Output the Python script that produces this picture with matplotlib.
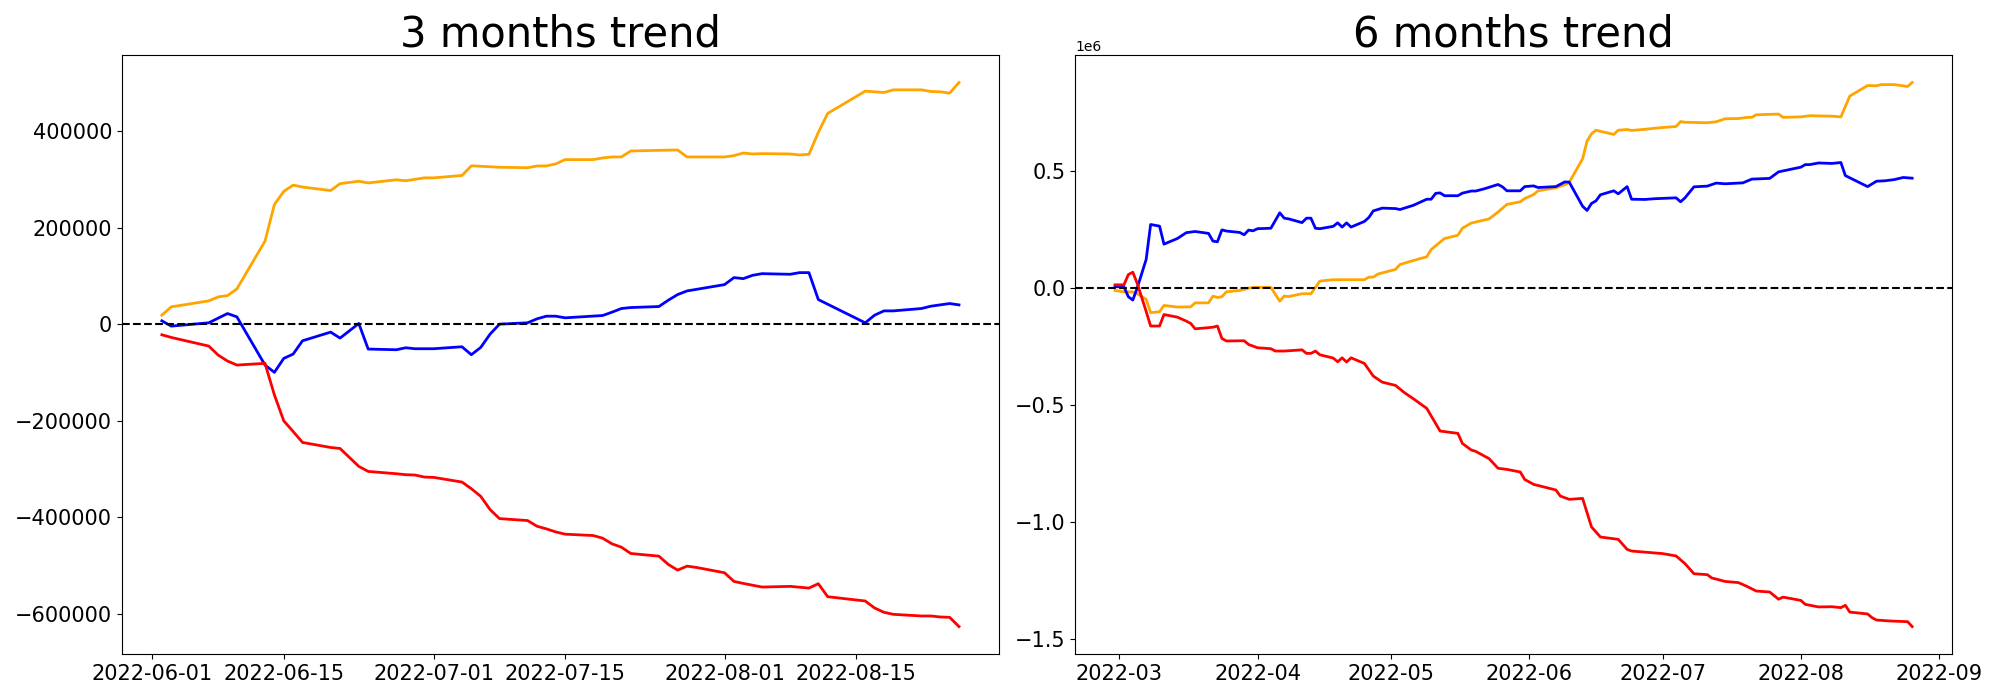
import matplotlib
matplotlib.use('Agg')
import matplotlib.pyplot as plt
import pandas as pd

# ---- 3 months trend ----
orange_3m_dates = ['2022-06-02', '2022-06-03', '2022-06-07', '2022-06-08', '2022-06-09', '2022-06-10',
                   '2022-06-13', '2022-06-14', '2022-06-15', '2022-06-16', '2022-06-17', '2022-06-20',
                   '2022-06-21', '2022-06-23', '2022-06-24', '2022-06-27', '2022-06-28', '2022-06-30',
                   '2022-07-01', '2022-07-04', '2022-07-05', '2022-07-08', '2022-07-11', '2022-07-12',
                   '2022-07-13', '2022-07-14', '2022-07-15', '2022-07-18', '2022-07-19', '2022-07-20',
                   '2022-07-21', '2022-07-22', '2022-07-25', '2022-07-27', '2022-07-28', '2022-08-01',
                   '2022-08-02', '2022-08-03', '2022-08-04', '2022-08-05', '2022-08-08', '2022-08-09',
                   '2022-08-10', '2022-08-11', '2022-08-12', '2022-08-16', '2022-08-17', '2022-08-18',
                   '2022-08-19', '2022-08-22', '2022-08-23', '2022-08-24', '2022-08-25', '2022-08-26']
orange_3m = [18600, 35800, 48200, 56400, 59200, 73000,
             172000, 247800, 275000, 288000, 284000, 276700,
             291000, 296000, 292500, 299000, 297000, 303000,
             303000, 308000, 328000, 325000, 324000, 327600,
             327700, 332000, 340800, 340800, 344200, 346300,
             346300, 358700, 360000, 360700, 346300, 346300,
             349000, 354500, 352500, 353200, 352500, 350400,
             351800, 397200, 436500, 482600, 481200, 479800,
             485300, 485300, 481900, 481200, 478400, 500500]

blue_3m_dates = ['2022-06-02', '2022-06-03', '2022-06-07', '2022-06-09', '2022-06-10', '2022-06-13',
                 '2022-06-14', '2022-06-15', '2022-06-16', '2022-06-17', '2022-06-20', '2022-06-21',
                 '2022-06-23', '2022-06-24', '2022-06-27', '2022-06-28', '2022-06-29', '2022-07-01',
                 '2022-07-04', '2022-07-05', '2022-07-06', '2022-07-07', '2022-07-08', '2022-07-11',
                 '2022-07-12', '2022-07-13', '2022-07-14', '2022-07-15', '2022-07-19', '2022-07-20',
                 '2022-07-21', '2022-07-22', '2022-07-25', '2022-07-26', '2022-07-27', '2022-07-28',
                 '2022-08-01', '2022-08-02', '2022-08-03', '2022-08-04', '2022-08-05', '2022-08-08',
                 '2022-08-09', '2022-08-10', '2022-08-11', '2022-08-16', '2022-08-17', '2022-08-18',
                 '2022-08-19', '2022-08-22', '2022-08-23', '2022-08-25', '2022-08-26']
blue_3m = [6900, -4100, 2800, 22000, 15100, -84700,
           -99800, -70900, -62000, -34400, -16500, -28900,
           1400, -51600, -53000, -48900, -50900, -50900,
           -46800, -63300, -48200, -20700, 0, 2800,
           11000, 16500, 16500, 13100, 17900, 24800,
           32400, 34400, 36500, 49600, 61300, 68800,
           81900, 96400, 94300, 101200, 104600, 103300,
           106700, 106700, 50900, 2800, 18600, 27500,
           27500, 32400, 37200, 42700, 39900]

red_3m_dates = ['2022-06-02', '2022-06-03', '2022-06-07', '2022-06-08', '2022-06-09', '2022-06-10',
                '2022-06-13', '2022-06-14', '2022-06-15', '2022-06-16', '2022-06-17', '2022-06-20',
                '2022-06-21', '2022-06-23', '2022-06-24', '2022-06-27', '2022-06-28', '2022-06-29',
                '2022-06-30', '2022-07-01', '2022-07-04', '2022-07-05', '2022-07-06', '2022-07-07',
                '2022-07-08', '2022-07-11', '2022-07-12', '2022-07-13', '2022-07-14', '2022-07-15',
                '2022-07-18', '2022-07-19', '2022-07-20', '2022-07-21', '2022-07-22', '2022-07-25',
                '2022-07-26', '2022-07-27', '2022-07-28', '2022-07-29', '2022-08-01', '2022-08-02',
                '2022-08-03', '2022-08-05', '2022-08-08', '2022-08-10', '2022-08-11', '2022-08-12',
                '2022-08-16', '2022-08-17', '2022-08-18', '2022-08-19', '2022-08-22', '2022-08-23',
                '2022-08-24', '2022-08-25', '2022-08-26']
red_3m = [-22000, -27500, -45400, -64000, -76400, -84700,
          -81200, -146600, -200300, -222400, -245000, -255400,
          -257500, -294600, -305000, -309800, -311800, -312500,
          -316700, -317400, -327000, -340800, -356600, -384100,
          -402700, -406800, -418500, -424000, -430300, -435000,
          -437800, -443300, -455000, -461900, -475000, -480500,
          -497700, -509400, -501200, -503900, -514900, -532800,
          -537000, -544500, -543100, -546600, -537600, -564500,
          -573400, -587900, -596800, -601000, -604400, -604400,
          -606500, -607200, -626400]

# ---- 6 months trend ----
orange_6m_dates = ['2022-02-28', '2022-03-02', '2022-03-04', '2022-03-05', '2022-03-07', '2022-03-08',
                   '2022-03-10', '2022-03-11', '2022-03-14', '2022-03-17', '2022-03-18', '2022-03-21',
                   '2022-03-22', '2022-03-23', '2022-03-24', '2022-03-25', '2022-03-28', '2022-03-30',
                   '2022-03-31', '2022-04-04', '2022-04-06', '2022-04-07', '2022-04-08', '2022-04-11',
                   '2022-04-13', '2022-04-15', '2022-04-18', '2022-04-25', '2022-04-26', '2022-04-27',
                   '2022-04-28', '2022-05-02', '2022-05-03', '2022-05-06', '2022-05-09', '2022-05-10',
                   '2022-05-11', '2022-05-13', '2022-05-16', '2022-05-17', '2022-05-19', '2022-05-23',
                   '2022-05-25', '2022-05-27', '2022-05-30', '2022-05-31', '2022-06-02', '2022-06-03',
                   '2022-06-07', '2022-06-09', '2022-06-10', '2022-06-13', '2022-06-14', '2022-06-15',
                   '2022-06-16', '2022-06-20', '2022-06-21', '2022-06-23', '2022-06-24', '2022-06-27',
                   '2022-06-28', '2022-06-30', '2022-07-04', '2022-07-05', '2022-07-06', '2022-07-11',
                   '2022-07-13', '2022-07-15', '2022-07-18', '2022-07-20', '2022-07-21', '2022-07-22',
                   '2022-07-27', '2022-07-28', '2022-08-01', '2022-08-03', '2022-08-08', '2022-08-10',
                   '2022-08-12', '2022-08-16', '2022-08-18', '2022-08-19', '2022-08-22', '2022-08-25',
                   '2022-08-26']
orange_6m = [-10000, -16000, -16000, -24000, -48000, -105000,
             -101000, -74000, -81000, -80000, -63000, -63000,
             -34000, -40000, -37000, -16000, -10000, 0,
             3000, 3000, -56000, -34000, -36000, -24000,
             -24000, 30000, 36000, 36000, 47000, 47000,
             60000, 80000, 101000, 118000, 134000, 165000,
             181000, 212000, 226000, 256000, 278000, 296000,
             325000, 358000, 369000, 383000, 400000, 416000,
             429000, 442000, 452000, 553000, 628000, 660000,
             675000, 657000, 675000, 678000, 674000, 679000,
             681000, 685000, 691000, 712000, 709000, 707000,
             711000, 724000, 725000, 730000, 730000, 741000,
             744000, 730000, 732000, 737000, 735000, 732000,
             821000, 866000, 865000, 870000, 870000, 862000,
             879000]

blue_6m_dates = ['2022-02-28', '2022-03-02', '2022-03-03', '2022-03-04', '2022-03-05', '2022-03-07',
                 '2022-03-08', '2022-03-10', '2022-03-11', '2022-03-14', '2022-03-16', '2022-03-18',
                 '2022-03-21', '2022-03-22', '2022-03-23', '2022-03-24', '2022-03-25', '2022-03-28',
                 '2022-03-29', '2022-03-30', '2022-03-31', '2022-04-01', '2022-04-04', '2022-04-06',
                 '2022-04-07', '2022-04-08', '2022-04-11', '2022-04-12', '2022-04-13', '2022-04-14',
                 '2022-04-15', '2022-04-18', '2022-04-19', '2022-04-20', '2022-04-21', '2022-04-22',
                 '2022-04-25', '2022-04-26', '2022-04-27', '2022-04-29', '2022-05-02', '2022-05-03',
                 '2022-05-06', '2022-05-09', '2022-05-10', '2022-05-11', '2022-05-12', '2022-05-13',
                 '2022-05-16', '2022-05-17', '2022-05-19', '2022-05-20', '2022-05-22', '2022-05-25',
                 '2022-05-26', '2022-05-27', '2022-05-30', '2022-05-31', '2022-06-02', '2022-06-03',
                 '2022-06-07', '2022-06-09', '2022-06-10', '2022-06-13', '2022-06-14', '2022-06-15',
                 '2022-06-16', '2022-06-17', '2022-06-20', '2022-06-21', '2022-06-23', '2022-06-24',
                 '2022-06-27', '2022-06-29', '2022-07-04', '2022-07-05', '2022-07-06', '2022-07-08',
                 '2022-07-11', '2022-07-13', '2022-07-15', '2022-07-19', '2022-07-21', '2022-07-25',
                 '2022-07-27', '2022-08-01', '2022-08-02', '2022-08-03', '2022-08-05', '2022-08-08',
                 '2022-08-10', '2022-08-11', '2022-08-16', '2022-08-18', '2022-08-20', '2022-08-22',
                 '2022-08-24', '2022-08-26']
blue_6m = [6000, 6000, -37000, -51000, 1000, 123000,
           272000, 265000, 188000, 212000, 237000, 242000,
           234000, 201000, 198000, 249000, 244000, 238000,
           228000, 248000, 245000, 254000, 256000, 322000,
           299000, 296000, 280000, 299000, 299000, 256000,
           254000, 264000, 279000, 261000, 279000, 261000,
           285000, 302000, 330000, 342000, 340000, 336000,
           354000, 380000, 380000, 405000, 407000, 395000,
           395000, 406000, 415000, 415000, 425000, 443000,
           433000, 416000, 416000, 434000, 437000, 430000,
           434000, 454000, 453000, 350000, 332000, 362000,
           373000, 399000, 416000, 403000, 434000, 380000,
           379000, 382000, 386000, 369000, 386000, 433000,
           436000, 449000, 446000, 450000, 466000, 469000,
           497000, 517000, 528000, 528000, 535000, 533000,
           537000, 481000, 434000, 457000, 459000, 464000,
           473000, 470000]

red_6m_dates = ['2022-02-28', '2022-03-02', '2022-03-03', '2022-03-04', '2022-03-05', '2022-03-07',
                '2022-03-08', '2022-03-10', '2022-03-11', '2022-03-14', '2022-03-16', '2022-03-17',
                '2022-03-18', '2022-03-21', '2022-03-22', '2022-03-23', '2022-03-24', '2022-03-25',
                '2022-03-29', '2022-03-30', '2022-04-01', '2022-04-04', '2022-04-05', '2022-04-07',
                '2022-04-11', '2022-04-12', '2022-04-13', '2022-04-14', '2022-04-15', '2022-04-18',
                '2022-04-19', '2022-04-20', '2022-04-21', '2022-04-22', '2022-04-25', '2022-04-27',
                '2022-04-29', '2022-05-02', '2022-05-04', '2022-05-06', '2022-05-09', '2022-05-12',
                '2022-05-16', '2022-05-17', '2022-05-19', '2022-05-20', '2022-05-23', '2022-05-25',
                '2022-05-27', '2022-05-30', '2022-05-31', '2022-06-02', '2022-06-07', '2022-06-08',
                '2022-06-10', '2022-06-13', '2022-06-15', '2022-06-17', '2022-06-21', '2022-06-23',
                '2022-06-24', '2022-07-01', '2022-07-04', '2022-07-06', '2022-07-08', '2022-07-11',
                '2022-07-12', '2022-07-15', '2022-07-18', '2022-07-20', '2022-07-22', '2022-07-25',
                '2022-07-27', '2022-07-28', '2022-08-01', '2022-08-02', '2022-08-05', '2022-08-08',
                '2022-08-10', '2022-08-11', '2022-08-12', '2022-08-16', '2022-08-17', '2022-08-18',
                '2022-08-21', '2022-08-25', '2022-08-26']
red_6m = [14000, 14000, 58000, 68000, 20000, -100000,
          -162000, -162000, -113000, -124000, -141000, -151000,
          -174000, -169000, -167000, -162000, -215000, -226000,
          -225000, -241000, -255000, -259000, -269000, -269000,
          -264000, -279000, -279000, -269000, -285000, -299000,
          -315000, -298000, -316000, -298000, -322000, -376000,
          -402000, -416000, -447000, -473000, -514000, -611000,
          -621000, -664000, -692000, -698000, -729000, -770000,
          -775000, -786000, -818000, -839000, -863000, -889000,
          -903000, -899000, -1021000, -1064000, -1074000, -1117000,
          -1124000, -1135000, -1145000, -1178000, -1221000, -1225000,
          -1239000, -1254000, -1259000, -1276000, -1295000, -1299000,
          -1330000, -1321000, -1335000, -1352000, -1363000, -1362000,
          -1366000, -1356000, -1385000, -1393000, -1409000, -1419000,
          -1423000, -1426000, -1447000]

panels = [
    ('3 months trend', [(orange_3m_dates, orange_3m, 'orange'),
                        (blue_3m_dates, blue_3m, 'blue'),
                        (red_3m_dates, red_3m, 'red')]),
    ('6 months trend', [(orange_6m_dates, orange_6m, 'orange'),
                        (blue_6m_dates, blue_6m, 'blue'),
                        (red_6m_dates, red_6m, 'red')]),
]

fig, axes = plt.subplots(1, 2, figsize=(20, 7), dpi=100)
fig.subplots_adjust(left=0.061, right=0.976, bottom=0.066, top=0.921, wspace=0.087)

for ax, (title, series) in zip(axes, panels):
    for dates, vals, color in series:
        ax.plot(pd.to_datetime(dates), vals, color=color, linewidth=2)
    ax.axhline(0, color='black', linestyle='--', linewidth=1.5)
    ax.set_title(title, fontsize=30)
    ax.tick_params(labelsize=15)

plt.savefig('out.png')
